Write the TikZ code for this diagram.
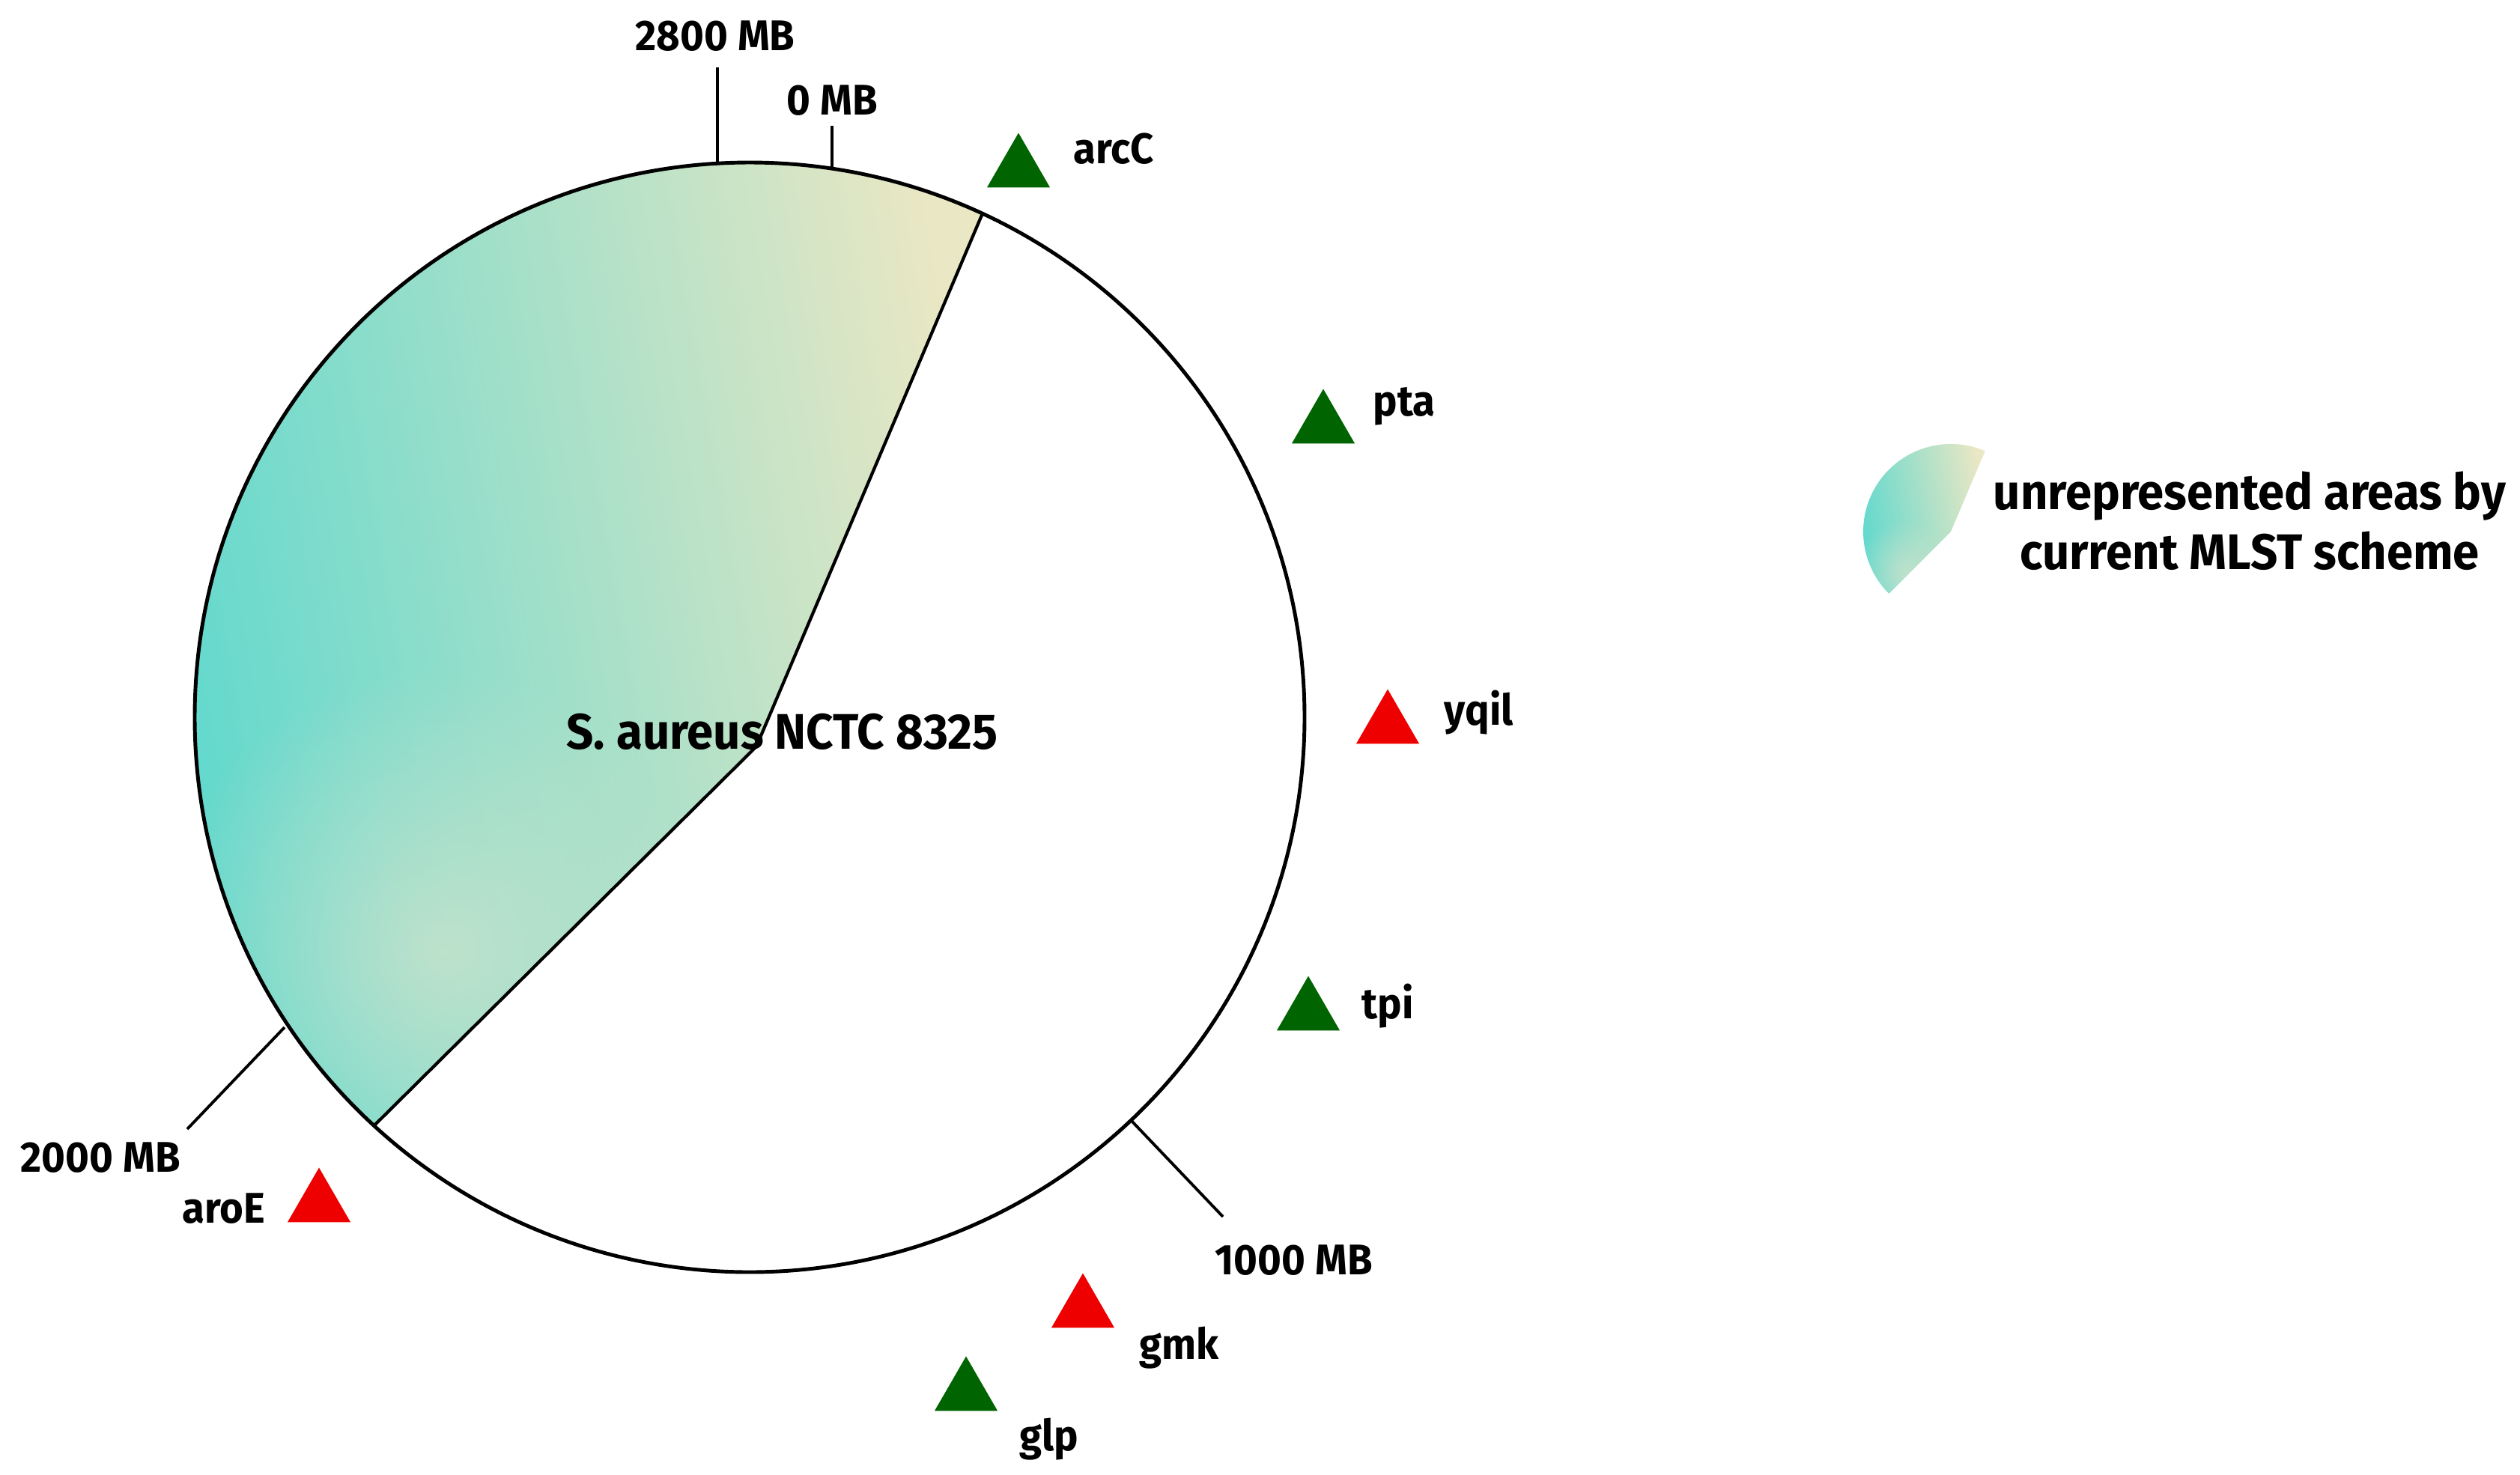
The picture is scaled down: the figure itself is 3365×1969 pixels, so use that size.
\documentclass[tikz,border=0pt]{standalone}
\usepackage{fontspec}
\setmainfont{Fira Sans}
\newfontfamily\labelfont{Fira Sans}[FakeStretch=0.95]
\usetikzlibrary{shapes.geometric,fadings}
\definecolor{gteal}{RGB}{92,216,206}
\definecolor{gmid}{RGB}{160,223,204}
\definecolor{gcream}{RGB}{234,231,196}
\definecolor{gspot}{RGB}{214,228,204}
\definecolor{mkgreen}{RGB}{0,100,0}
\definecolor{mkred}{RGB}{238,0,0}
\tikzfading[name=spotfade, inner color=transparent!30, outer color=transparent!100]
\tikzset{
  lbl/.style={font=\labelfont\bfseries\fontsize{16.3}{20}\selectfont, inner sep=0pt, anchor=base west},
  ttl/.style={font=\labelfont\bfseries\fontsize{19}{22}\selectfont, inner sep=0pt, anchor=base west},
  legtxt/.style={font=\labelfont\bfseries\fontsize{19}{22}\selectfont, inner sep=0pt, anchor=base},
  tri/.style={regular polygon, regular polygon sides=3, minimum size=0.97cm, inner sep=0pt, draw=none},
  tickline/.style={line width=1.1pt},
  edge/.style={line width=1.2pt},
  secfill/.style={top color=gcream, middle color=gmid, bottom color=gteal, shading angle=-80}
}
\begin{document}
\begin{tikzpicture}[x=0.1mm, y=0.1mm]
\useasboundingbox (0,0) rectangle (3365,-1969);
% sector geometry
\coordinate (C) at (1001,-958);
\coordinate (A) at (1010,-997);
\coordinate (S1) at ([shift={(1001,-958)}]65.2:7.41cm);
\coordinate (S2) at ([shift={(1001,-958)}]227.4:7.41cm);
\shade[secfill] (A) -- (S1) arc[start angle=65.2, end angle=227.4, radius=7.41cm] -- cycle;
\begin{scope}
  \clip (A) -- (S1) arc[start angle=65.2, end angle=227.4, radius=7.41cm] -- cycle;
  \fill[gspot, path fading=spotfade] (590,-1270) circle (3.8cm);
\end{scope}
\draw[edge] (S1) -- (A) -- (S2);
\node[circle, draw, line width=1.4pt, minimum size=14.82cm, inner sep=0pt] (genome) at (C) {};
\node[ttl] (title) at (756,-1000) {S. aureus NCTC 8325};
% ticks
\coordinate (k2800a) at (958,-217); \coordinate (k2800b) at (958,-90);
\coordinate (k0a) at (1111,-225); \coordinate (k0b) at (1111,-168);
\coordinate (k2000a) at (380,-1372); \coordinate (k2000b) at (250,-1508);
\coordinate (k1000a) at (1510,-1496); \coordinate (k1000b) at (1633,-1625);
\draw[tickline] (k2800a) -- (k2800b);
\draw[tickline] (k0a) -- (k0b);
\draw[tickline] (k2000a) -- (k2000b);
\draw[tickline] (k1000a) -- (k1000b);
\node[lbl] (l2800) at (848,-67) {2800 MB};
\node[lbl] (l0) at (1050,-153) {0 MB};
\node[lbl] (l2000) at (27,-1565) {2000 MB};
\node[lbl] (l1000) at (1622,-1702) {1000 MB};
% markers
\node[tri, fill=mkgreen] (tarcC) at (1360,-226) {};
\node[tri, fill=mkgreen] (tpta) at (1767,-568) {};
\node[tri, fill=mkred] (tyqil) at (1853,-969) {};
\node[tri, fill=mkgreen] (ttpi) at (1747,-1352) {};
\node[tri, fill=mkred] (tgmk) at (1446,-1749) {};
\node[tri, fill=mkgreen] (tglp) at (1290,-1860) {};
\node[tri, fill=mkred] (taroE) at (426,-1608) {};
\node[lbl] (narcC) at (1433,-218) {arcC};
\node[lbl] (npta) at (1833,-555) {pta};
\node[lbl] (nyqil) at (1928,-968) {yqil};
\node[lbl] (ntpi) at (1818,-1360) {tpi};
\node[lbl] (ngmk) at (1521,-1815) {gmk};
\node[lbl] (nglp) at (1361,-1937) {glp};
\node[lbl] (naroE) at (243,-1633) {aroE};
% legend
\coordinate (LC) at (2605,-710);
\coordinate (L1) at ([shift={(2605,-710)}]67:1.17cm);
\shade[secfill] (LC) -- (L1) arc[start angle=67, end angle=225, radius=1.17cm] -- cycle;
\begin{scope}
  \clip (LC) -- (L1) arc[start angle=67, end angle=225, radius=1.17cm] -- cycle;
  \fill[gspot, path fading=spotfade] (2545,-765) circle (0.7cm);
\end{scope}
\node[legtxt] (leg1) at (3004,-680) {unrepresented areas by};
\node[legtxt] (leg2) at (3004,-760) {current MLST scheme};
\end{tikzpicture}
\end{document}
